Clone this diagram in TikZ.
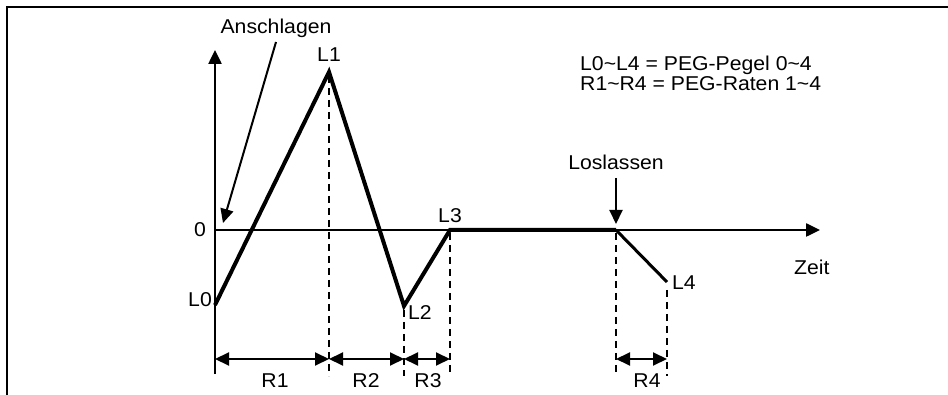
\documentclass[tikz,border=0pt]{standalone}
\usepackage{fontspec}
\setmainfont[FakeStretch=1.06]{Liberation Sans}
\usetikzlibrary{arrows.meta}
\begin{document}
\begin{tikzpicture}[x=1pt,y=-1pt,
  lbl/.style={font=\fontsize{20}{23}\selectfont, inner sep=0pt},
  legend/.style={lbl, text height=12pt, text depth=3pt},
  frame/.style={line width=2pt},
  axis/.style={line width=2.5pt, -{Triangle[length=14pt,width=13pt]}},
  curve/.style={line width=4pt, line join=miter},
  guide/.style={line width=2pt, dash pattern=on 7pt off 5pt},
  dim/.style={line width=2pt, {Triangle[length=14pt,width=13pt]}-{Triangle[length=14pt,width=13pt]}},
  pointer/.style={line width=2pt, -{Triangle[length=14pt,width=13pt]}},
  ]
\useasboundingbox (0,0) rectangle (948,395);
% frame
\coordinate (FR) at (948,7);
\coordinate (FC) at (7,7);
\coordinate (FB) at (7,395);
\draw[frame] (FR) -- (FC) -- (FB);

% key points
\coordinate (Ybot) at (215,374);
\coordinate (Ytop) at (215,50);
\coordinate (O) at (215,230);
\coordinate (Xend) at (820,230);
\coordinate (P0) at (215,305);
\coordinate (P1) at (329,72);
\coordinate (P2) at (404,306);
\coordinate (P3) at (450,230);
\coordinate (PR) at (616,230);
\coordinate (P4) at (667,282);

% axes
\draw[axis] (Ybot) -- (Ytop);
\draw[axis] (O) -- (Xend);

% envelope
\draw[curve] (P0) -- (P1) -- (P2) -- (P3) -- (PR);
\draw[line width=3pt] (PR) -- (P4);

% guides
\coordinate (G1a) at (329,76);  \coordinate (G1b) at (329,376);
\coordinate (G2a) at (404,310); \coordinate (G2b) at (404,376);
\coordinate (G3a) at (450,233); \coordinate (G3b) at (450,376);
\coordinate (G4a) at (616,233); \coordinate (G4b) at (616,376);
\coordinate (G5a) at (667,290); \coordinate (G5b) at (667,376);
\draw[guide] (G1a) -- (G1b);
\draw[guide] (G2a) -- (G2b);
\draw[guide] (G3a) -- (G3b);
\draw[guide] (G4a) -- (G4b);
\draw[guide] (G5a) -- (G5b);

% dimension arrows
\coordinate (D0) at (215,359);
\coordinate (D1) at (329,359);
\coordinate (D2) at (404,359);
\coordinate (D3) at (450,359);
\coordinate (D4) at (616,359);
\coordinate (D5) at (667,359);
\draw[dim] (D0) -- (D1);
\draw[dim] (D1) -- (D2);
\draw[dim] (D2) -- (D3);
\draw[dim] (D4) -- (D5);

\node[lbl, anchor=base] (r1) at (275,388) {R1};
\node[lbl, anchor=base] (r2) at (366,388) {R2};
\node[lbl, anchor=base] (r3) at (428,388) {R3};
\node[lbl, anchor=base] (r4) at (647,388) {R4};

% labels
\node[lbl, anchor=base] (zero) at (200,237) {0};
\node[lbl, anchor=base east] (l0) at (212,307) {L0};
\node[lbl, anchor=base] (l1) at (329,62) {L1};
\node[lbl, anchor=base west] (l2) at (408,320) {L2};
\node[lbl, anchor=base] (l3) at (450,223) {L3};
\node[lbl, anchor=base west] (l4) at (672,290) {L4};
\node[lbl, anchor=base west] (zeit) at (794,275) {Zeit};

% Anschlagen
\node[lbl, anchor=base] (ans) at (276,34) {Anschlagen};
\coordinate (Aa) at (276,42);
\coordinate (Ab) at (223,223);
\draw[pointer] (Aa) -- (Ab);

% Loslassen
\node[lbl, anchor=base] (los) at (616,170) {Loslassen};
\coordinate (La) at (616,178);
\coordinate (Lb) at (616,224);
\draw[pointer] (La) -- (Lb);

% legend
\node[legend, anchor=base west] (leg1) at (580,70.5) {L0\char`\~L4 = PEG-Pegel 0\char`\~4};
\node[legend, anchor=base west] (leg2) at (580,90.5) {R1\char`\~R4 = PEG-Raten 1\char`\~4};
\end{tikzpicture}
\end{document}
